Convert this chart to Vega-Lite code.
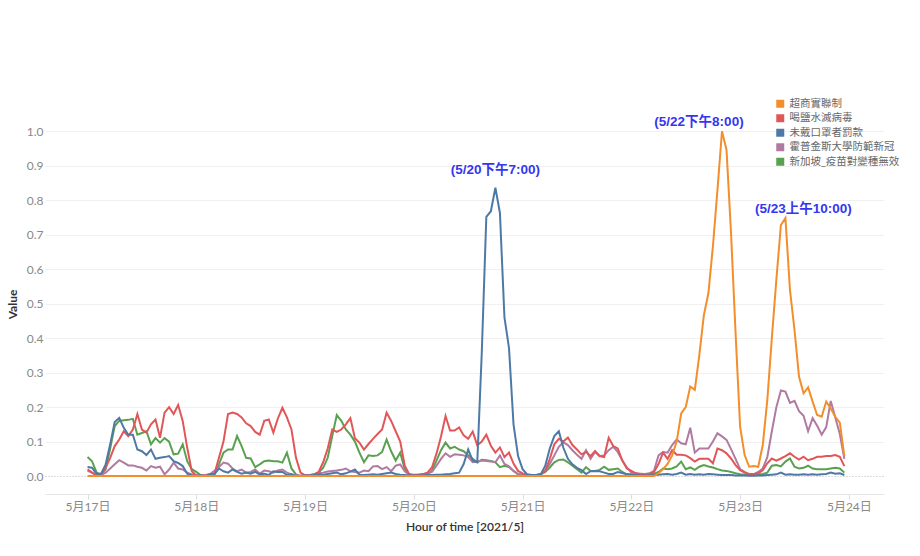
{
 "$schema": "https://vega.github.io/schema/vega-lite/v6.json",
 "width": 839, "height": 380,
 "autosize": {"type": "none"},
 "padding": {"left": 45, "top": 114, "right": 36, "bottom": 62},
 "background": "white",
 "config": {"view": {"stroke": null}, "font": "Lato, 'Noto Sans CJK TC', sans-serif"},
 "encoding": {
  "x": {"field": "t", "type": "temporal",
   "scale": {"domain": [{"year": 2021, "month": 5, "date": 16, "hours": 14, "minutes": 37}, {"year": 2021, "month": 5, "date": 24, "hours": 7, "minutes": 45}]},
   "axis": {"values": [{"year": 2021, "month": 5, "date": 17}, {"year": 2021, "month": 5, "date": 18}, {"year": 2021, "month": 5, "date": 19}, {"year": 2021, "month": 5, "date": 20}, {"year": 2021, "month": 5, "date": 21}, {"year": 2021, "month": 5, "date": 22}, {"year": 2021, "month": 5, "date": 23}, {"year": 2021, "month": 5, "date": 24}],
    "format": "%-m月%-d日", "title": "Hour of time [2021/5]", "grid": false, "domain": true, "domainColor": "#e6e6e6", "ticks": true, "tickColor": "#dddddd", "tickSize": 5, "labelColor": "#888888", "labelFontSize": 12, "labelPadding": 2, "labelOverlap": false, "labelFlush": false, "titleColor": "#333333", "titleFontSize": 12, "titleFontWeight": 600, "titlePadding": 9}},
  "y": {"field": "v", "type": "quantitative",
   "scale": {"domain": [-0.052, 1.05], "nice": false, "zero": false},
   "axis": {"values": [0, 0.1, 0.2, 0.3, 0.4, 0.5, 0.6, 0.7, 0.8, 0.9, 1.0], "format": ".1f", "title": "Value", "domain": false, "ticks": false,
    "gridColor": {"condition": {"test": "datum.value === 0", "value": "#bbbbbb"}, "value": "#f0f0f0"},
    "gridDash": {"condition": {"test": "datum.value === 0", "value": [1, 2]}, "value": []},
    "labelColor": "#888888", "labelFontSize": 12, "labelPadding": 2, "titleColor": "#333333", "titleFontSize": 12, "titleFontWeight": "bold", "titlePadding": 7}}
 },
 "layer": [
  {
   "data": {"values": [
{"t":"2021-05-17T00:00","o":0,"r":0.02,"b":0.026,"p":0.015,"g":0.055},
{"t":"2021-05-17T01:00","o":0,"r":0.01,"b":0.024,"p":0.01,"g":0.043},
{"t":"2021-05-17T02:00","o":0,"r":0.002,"b":0.007,"p":0.003,"g":0.01},
{"t":"2021-05-17T03:00","o":0,"r":0.005,"b":0.007,"p":0.003,"g":0.005},
{"t":"2021-05-17T04:00","o":0,"r":0.024,"b":0.034,"p":0.01,"g":0.02},
{"t":"2021-05-17T05:00","o":0,"r":0.053,"b":0.092,"p":0.022,"g":0.08},
{"t":"2021-05-17T06:00","o":0,"r":0.087,"b":0.157,"p":0.034,"g":0.145},
{"t":"2021-05-17T07:00","o":0,"r":0.106,"b":0.169,"p":0.046,"g":0.16},
{"t":"2021-05-17T08:00","o":0,"r":0.13,"b":0.14,"p":0.039,"g":0.162},
{"t":"2021-05-17T09:00","o":0,"r":0.116,"b":0.12,"p":0.031,"g":0.163},
{"t":"2021-05-17T10:00","o":0,"r":0.135,"b":0.12,"p":0.031,"g":0.166},
{"t":"2021-05-17T11:00","o":0,"r":0.18,"b":0.077,"p":0.027,"g":0.12},
{"t":"2021-05-17T12:00","o":0,"r":0.135,"b":0.072,"p":0.024,"g":0.125},
{"t":"2021-05-17T13:00","o":0,"r":0.126,"b":0.061,"p":0.016,"g":0.13},
{"t":"2021-05-17T14:00","o":0,"r":0.15,"b":0.077,"p":0.029,"g":0.092},
{"t":"2021-05-17T15:00","o":0,"r":0.164,"b":0.05,"p":0.024,"g":0.11},
{"t":"2021-05-17T16:00","o":0,"r":0.111,"b":0.053,"p":0.027,"g":0.097},
{"t":"2021-05-17T17:00","o":0,"r":0.184,"b":0.055,"p":0.005,"g":0.11},
{"t":"2021-05-17T18:00","o":0,"r":0.2,"b":0.058,"p":0.019,"g":0.1},
{"t":"2021-05-17T19:00","o":0,"r":0.18,"b":0.043,"p":0.039,"g":0.063},
{"t":"2021-05-17T20:00","o":0,"r":0.206,"b":0.038,"p":0.022,"g":0.065},
{"t":"2021-05-17T21:00","o":0,"r":0.16,"b":0.029,"p":0.019,"g":0.092},
{"t":"2021-05-17T22:00","o":0,"r":0.082,"b":0.007,"p":0.01,"g":0.043},
{"t":"2021-05-17T23:00","o":0,"r":0.014,"b":0.002,"p":0.005,"g":0.02},
{"t":"2021-05-18T00:00","o":0,"r":0.002,"b":0,"p":0.002,"g":0.012},
{"t":"2021-05-18T01:00","o":0,"r":0.002,"b":0.002,"p":0.002,"g":0.002},
{"t":"2021-05-18T02:00","o":0,"r":0.002,"b":0,"p":0.003,"g":0},
{"t":"2021-05-18T03:00","o":0,"r":0.005,"b":0.005,"p":0.005,"g":0.002},
{"t":"2021-05-18T04:00","o":0,"r":0.007,"b":0.005,"p":0.015,"g":0.005},
{"t":"2021-05-18T05:00","o":0,"r":0.053,"b":0.022,"p":0.026,"g":0.034},
{"t":"2021-05-18T06:00","o":0,"r":0.1,"b":0.014,"p":0.039,"g":0.068},
{"t":"2021-05-18T07:00","o":0,"r":0.18,"b":0.01,"p":0.036,"g":0.077},
{"t":"2021-05-18T08:00","o":0,"r":0.184,"b":0.019,"p":0.022,"g":0.077},
{"t":"2021-05-18T09:00","o":0,"r":0.18,"b":0.012,"p":0.014,"g":0.116},
{"t":"2021-05-18T10:00","o":0,"r":0.17,"b":0.007,"p":0.019,"g":0.087},
{"t":"2021-05-18T11:00","o":0,"r":0.153,"b":0.01,"p":0.01,"g":0.053},
{"t":"2021-05-18T12:00","o":0,"r":0.145,"b":0.007,"p":0.012,"g":0.051},
{"t":"2021-05-18T13:00","o":0,"r":0.128,"b":0.012,"p":0.019,"g":0.026},
{"t":"2021-05-18T14:00","o":0,"r":0.12,"b":0.005,"p":0.007,"g":0.034},
{"t":"2021-05-18T15:00","o":0,"r":0.16,"b":0.007,"p":0.016,"g":0.043},
{"t":"2021-05-18T16:00","o":0,"r":0.164,"b":0.003,"p":0.014,"g":0.045},
{"t":"2021-05-18T17:00","o":0,"r":0.126,"b":0.014,"p":0.01,"g":0.043},
{"t":"2021-05-18T18:00","o":0,"r":0.167,"b":0.012,"p":0.016,"g":0.043},
{"t":"2021-05-18T19:00","o":0,"r":0.198,"b":0.012,"p":0.019,"g":0.039},
{"t":"2021-05-18T20:00","o":0,"r":0.17,"b":0.003,"p":0.01,"g":0.068},
{"t":"2021-05-18T21:00","o":0,"r":0.135,"b":0.005,"p":0.005,"g":0.022},
{"t":"2021-05-18T22:00","o":0,"r":0.053,"b":0,"p":0.002,"g":0.005},
{"t":"2021-05-18T23:00","o":0,"r":0.01,"b":0,"p":0.002,"g":0},
{"t":"2021-05-19T00:00","o":0,"r":0.002,"b":0.002,"p":0.003,"g":0},
{"t":"2021-05-19T01:00","o":0,"r":0.002,"b":0.002,"p":0.003,"g":0.002},
{"t":"2021-05-19T02:00","o":0,"r":0.005,"b":0.003,"p":0.005,"g":0.004},
{"t":"2021-05-19T03:00","o":0,"r":0.012,"b":0.005,"p":0.008,"g":0.01},
{"t":"2021-05-19T04:00","o":0,"r":0.04,"b":0.004,"p":0.01,"g":0.024},
{"t":"2021-05-19T05:00","o":0,"r":0.08,"b":0.006,"p":0.013,"g":0.053},
{"t":"2021-05-19T06:00","o":0,"r":0.135,"b":0.008,"p":0.015,"g":0.116},
{"t":"2021-05-19T07:00","o":0,"r":0.128,"b":0.01,"p":0.016,"g":0.177},
{"t":"2021-05-19T08:00","o":0,"r":0.135,"b":0.005,"p":0.018,"g":0.16},
{"t":"2021-05-19T09:00","o":0,"r":0.15,"b":0.008,"p":0.022,"g":0.135},
{"t":"2021-05-19T10:00","o":0,"r":0.168,"b":0.013,"p":0.014,"g":0.12},
{"t":"2021-05-19T11:00","o":0,"r":0.11,"b":0.019,"p":0.012,"g":0.1},
{"t":"2021-05-19T12:00","o":0,"r":0.097,"b":0.004,"p":0.01,"g":0.068},
{"t":"2021-05-19T13:00","o":0,"r":0.077,"b":0.003,"p":0.016,"g":0.04},
{"t":"2021-05-19T14:00","o":0,"r":0.093,"b":0.004,"p":0.014,"g":0.06},
{"t":"2021-05-19T15:00","o":0,"r":0.108,"b":0.005,"p":0.028,"g":0.058},
{"t":"2021-05-19T16:00","o":0,"r":0.122,"b":0.004,"p":0.029,"g":0.06},
{"t":"2021-05-19T17:00","o":0,"r":0.135,"b":0.006,"p":0.02,"g":0.07},
{"t":"2021-05-19T18:00","o":0,"r":0.184,"b":0.008,"p":0.026,"g":0.106},
{"t":"2021-05-19T19:00","o":0,"r":0.16,"b":0.01,"p":0.014,"g":0.072},
{"t":"2021-05-19T20:00","o":0,"r":0.13,"b":0.006,"p":0.03,"g":0.045},
{"t":"2021-05-19T21:00","o":0,"r":0.1,"b":0.004,"p":0.034,"g":0.068},
{"t":"2021-05-19T22:00","o":0,"r":0.03,"b":0.003,"p":0.014,"g":0.02},
{"t":"2021-05-19T23:00","o":0,"r":0.005,"b":0.002,"p":0.004,"g":0.005},
{"t":"2021-05-20T00:00","o":0,"r":0.003,"b":0.002,"p":0.004,"g":0.002},
{"t":"2021-05-20T01:00","o":0,"r":0.004,"b":0.002,"p":0.004,"g":0.002},
{"t":"2021-05-20T02:00","o":0,"r":0.005,"b":0.002,"p":0.006,"g":0.003},
{"t":"2021-05-20T03:00","o":0,"r":0.01,"b":0.003,"p":0.008,"g":0.005},
{"t":"2021-05-20T04:00","o":0,"r":0.025,"b":0.003,"p":0.012,"g":0.015},
{"t":"2021-05-20T05:00","o":0,"r":0.065,"b":0.004,"p":0.03,"g":0.045},
{"t":"2021-05-20T06:00","o":0,"r":0.115,"b":0.004,"p":0.05,"g":0.075},
{"t":"2021-05-20T07:00","o":0,"r":0.174,"b":0.005,"p":0.066,"g":0.097},
{"t":"2021-05-20T08:00","o":0,"r":0.132,"b":0.006,"p":0.056,"g":0.08},
{"t":"2021-05-20T09:00","o":0,"r":0.132,"b":0.008,"p":0.063,"g":0.085},
{"t":"2021-05-20T10:00","o":0,"r":0.141,"b":0.01,"p":0.062,"g":0.077},
{"t":"2021-05-20T11:00","o":0,"r":0.118,"b":0.035,"p":0.06,"g":0.072},
{"t":"2021-05-20T12:00","o":0,"r":0.108,"b":0.077,"p":0.055,"g":0.06},
{"t":"2021-05-20T13:00","o":0,"r":0.129,"b":0.045,"p":0.04,"g":0.05},
{"t":"2021-05-20T14:00","o":0,"r":0.089,"b":0.04,"p":0.042,"g":0.04},
{"t":"2021-05-20T15:00","o":0,"r":0.1,"b":0.36,"p":0.045,"g":0.047},
{"t":"2021-05-20T16:00","o":0,"r":0.12,"b":0.752,"p":0.044,"g":0.046},
{"t":"2021-05-20T17:00","o":0,"r":0.088,"b":0.768,"p":0.042,"g":0.044},
{"t":"2021-05-20T18:00","o":0,"r":0.068,"b":0.836,"p":0.04,"g":0.04},
{"t":"2021-05-20T19:00","o":0,"r":0.083,"b":0.763,"p":0.06,"g":0.026},
{"t":"2021-05-20T20:00","o":0,"r":0.055,"b":0.46,"p":0.035,"g":0.03},
{"t":"2021-05-20T21:00","o":0,"r":0.068,"b":0.372,"p":0.028,"g":0.026},
{"t":"2021-05-20T22:00","o":0,"r":0.036,"b":0.15,"p":0.015,"g":0.015},
{"t":"2021-05-20T23:00","o":0,"r":0.015,"b":0.058,"p":0.006,"g":0.005},
{"t":"2021-05-21T00:00","o":0,"r":0.008,"b":0.02,"p":0.004,"g":0.003},
{"t":"2021-05-21T01:00","o":0,"r":0.003,"b":0.005,"p":0.003,"g":0.002},
{"t":"2021-05-21T02:00","o":0,"r":0.002,"b":0.003,"p":0.003,"g":0.002},
{"t":"2021-05-21T03:00","o":0,"r":0.002,"b":0.003,"p":0.003,"g":0.002},
{"t":"2021-05-21T04:00","o":0,"r":0.005,"b":0.005,"p":0.006,"g":0.005},
{"t":"2021-05-21T05:00","o":0,"r":0.015,"b":0.03,"p":0.015,"g":0.012},
{"t":"2021-05-21T06:00","o":0,"r":0.05,"b":0.08,"p":0.035,"g":0.025},
{"t":"2021-05-21T07:00","o":0,"r":0.092,"b":0.116,"p":0.06,"g":0.04},
{"t":"2021-05-21T08:00","o":0,"r":0.108,"b":0.13,"p":0.085,"g":0.047},
{"t":"2021-05-21T09:00","o":0,"r":0.1,"b":0.082,"p":0.098,"g":0.048},
{"t":"2021-05-21T10:00","o":0,"r":0.112,"b":0.05,"p":0.09,"g":0.04},
{"t":"2021-05-21T11:00","o":0,"r":0.09,"b":0.034,"p":0.075,"g":0.03},
{"t":"2021-05-21T12:00","o":0,"r":0.077,"b":0.024,"p":0.062,"g":0.02},
{"t":"2021-05-21T13:00","o":0,"r":0.063,"b":0.017,"p":0.05,"g":0.01},
{"t":"2021-05-21T14:00","o":0,"r":0.07,"b":0.006,"p":0.075,"g":0.026},
{"t":"2021-05-21T15:00","o":0,"r":0.058,"b":0.014,"p":0.05,"g":0.015},
{"t":"2021-05-21T16:00","o":0,"r":0.073,"b":0.015,"p":0.07,"g":0.015},
{"t":"2021-05-21T17:00","o":0,"r":0.058,"b":0.014,"p":0.058,"g":0.018},
{"t":"2021-05-21T18:00","o":0,"r":0.055,"b":0.01,"p":0.06,"g":0.027},
{"t":"2021-05-21T19:00","o":0,"r":0.111,"b":0.006,"p":0.075,"g":0.018},
{"t":"2021-05-21T20:00","o":0,"r":0.087,"b":0.006,"p":0.085,"g":0.02},
{"t":"2021-05-21T21:00","o":0,"r":0.08,"b":0.012,"p":0.07,"g":0.022},
{"t":"2021-05-21T22:00","o":0,"r":0.045,"b":0.009,"p":0.046,"g":0.012},
{"t":"2021-05-21T23:00","o":0,"r":0.022,"b":0.005,"p":0.025,"g":0.005},
{"t":"2021-05-22T00:00","o":0,"r":0.015,"b":0.004,"p":0.01,"g":0.005},
{"t":"2021-05-22T01:00","o":0,"r":0.008,"b":0.003,"p":0.008,"g":0.004},
{"t":"2021-05-22T02:00","o":0,"r":0.005,"b":0.002,"p":0.007,"g":0.003},
{"t":"2021-05-22T03:00","o":0,"r":0.004,"b":0.002,"p":0.006,"g":0.003},
{"t":"2021-05-22T04:00","o":0,"r":0.005,"b":0.002,"p":0.008,"g":0.004},
{"t":"2021-05-22T05:00","o":0,"r":0.012,"b":0.003,"p":0.015,"g":0.006},
{"t":"2021-05-22T06:00","o":0.008,"r":0.035,"b":0.004,"p":0.06,"g":0.012},
{"t":"2021-05-22T07:00","o":0.02,"r":0.068,"b":0.005,"p":0.07,"g":0.022},
{"t":"2021-05-22T08:00","o":0.035,"r":0.05,"b":0.006,"p":0.068,"g":0.02},
{"t":"2021-05-22T09:00","o":0.06,"r":0.075,"b":0.004,"p":0.09,"g":0.022},
{"t":"2021-05-22T10:00","o":0.1,"r":0.062,"b":0.006,"p":0.106,"g":0.028},
{"t":"2021-05-22T11:00","o":0.182,"r":0.062,"b":0.01,"p":0.095,"g":0.042},
{"t":"2021-05-22T12:00","o":0.2,"r":0.06,"b":0.004,"p":0.092,"g":0.02},
{"t":"2021-05-22T13:00","o":0.26,"r":0.052,"b":0.006,"p":0.14,"g":0.025},
{"t":"2021-05-22T14:00","o":0.25,"r":0.042,"b":0.004,"p":0.068,"g":0.018},
{"t":"2021-05-22T15:00","o":0.351,"r":0.05,"b":0.005,"p":0.08,"g":0.027},
{"t":"2021-05-22T16:00","o":0.467,"r":0.05,"b":0.004,"p":0.08,"g":0.032},
{"t":"2021-05-22T17:00","o":0.53,"r":0.05,"b":0.006,"p":0.08,"g":0.028},
{"t":"2021-05-22T18:00","o":0.666,"r":0.037,"b":0.005,"p":0.1,"g":0.025},
{"t":"2021-05-22T19:00","o":0.83,"r":0.08,"b":0.004,"p":0.124,"g":0.02},
{"t":"2021-05-22T20:00","o":1.0,"r":0.075,"b":0.003,"p":0.115,"g":0.016},
{"t":"2021-05-22T21:00","o":0.946,"r":0.066,"b":0.003,"p":0.105,"g":0.015},
{"t":"2021-05-22T22:00","o":0.704,"r":0.051,"b":0.003,"p":0.078,"g":0.012},
{"t":"2021-05-22T23:00","o":0.414,"r":0.032,"b":0.002,"p":0.05,"g":0.008},
{"t":"2021-05-23T00:00","o":0.143,"r":0.017,"b":0.002,"p":0.02,"g":0.005},
{"t":"2021-05-23T01:00","o":0.061,"r":0.01,"b":0.002,"p":0.012,"g":0.004},
{"t":"2021-05-23T02:00","o":0.027,"r":0.006,"b":0.001,"p":0.005,"g":0.004},
{"t":"2021-05-23T03:00","o":0.029,"r":0.006,"b":0.001,"p":0.005,"g":0.004},
{"t":"2021-05-23T04:00","o":0.027,"r":0.008,"b":0.002,"p":0.012,"g":0.005},
{"t":"2021-05-23T05:00","o":0.09,"r":0.017,"b":0.002,"p":0.022,"g":0.006},
{"t":"2021-05-23T06:00","o":0.22,"r":0.037,"b":0.003,"p":0.055,"g":0.01},
{"t":"2021-05-23T07:00","o":0.4,"r":0.051,"b":0.004,"p":0.13,"g":0.03},
{"t":"2021-05-23T08:00","o":0.57,"r":0.045,"b":0.005,"p":0.2,"g":0.032},
{"t":"2021-05-23T09:00","o":0.728,"r":0.051,"b":0.01,"p":0.248,"g":0.028},
{"t":"2021-05-23T10:00","o":0.748,"r":0.058,"b":0.004,"p":0.245,"g":0.042},
{"t":"2021-05-23T11:00","o":0.54,"r":0.066,"b":0.005,"p":0.212,"g":0.051},
{"t":"2021-05-23T12:00","o":0.424,"r":0.056,"b":0.004,"p":0.218,"g":0.027},
{"t":"2021-05-23T13:00","o":0.288,"r":0.048,"b":0.004,"p":0.188,"g":0.022},
{"t":"2021-05-23T14:00","o":0.24,"r":0.056,"b":0.005,"p":0.175,"g":0.024},
{"t":"2021-05-23T15:00","o":0.257,"r":0.046,"b":0.004,"p":0.13,"g":0.03},
{"t":"2021-05-23T16:00","o":0.216,"r":0.05,"b":0.005,"p":0.168,"g":0.022},
{"t":"2021-05-23T17:00","o":0.177,"r":0.056,"b":0.004,"p":0.146,"g":0.02},
{"t":"2021-05-23T18:00","o":0.172,"r":0.056,"b":0.005,"p":0.12,"g":0.02},
{"t":"2021-05-23T19:00","o":0.216,"r":0.058,"b":0.006,"p":0.142,"g":0.02},
{"t":"2021-05-23T20:00","o":0.196,"r":0.058,"b":0.01,"p":0.218,"g":0.022},
{"t":"2021-05-23T21:00","o":0.172,"r":0.061,"b":0.007,"p":0.17,"g":0.024},
{"t":"2021-05-23T22:00","o":0.155,"r":0.056,"b":0.008,"p":0.122,"g":0.022},
{"t":"2021-05-23T23:00","o":0.058,"r":0.029,"b":0.003,"p":0.05,"g":0.01}
   ]},
   "transform": [{"fold": ["g", "p", "r", "b", "o"], "as": ["k", "v"]}],
   "mark": {"type": "line", "strokeWidth": 2},
   "encoding": {
    "color": {"field": "k", "type": "nominal",
     "scale": {"domain": ["o", "r", "b", "p", "g"], "range": ["#f28e2b", "#e15759", "#4e79a7", "#b07aa1", "#59a14f"]},
     "legend": {"title": null, "orient": "none", "legendX": 730, "legendY": -15.5, "padding": 0,
      "symbolType": "square", "symbolSize": 64, "symbolStrokeWidth": 0, "symbolOpacity": 1,
      "labelFontSize": 10.5, "labelColor": "#666666", "labelOffset": 4, "rowPadding": 3.5,
      "encode": {"symbols": {"update": {"fill": {"scale": "color", "field": "value"}, "fillOpacity": {"value": 1}, "strokeWidth": {"value": 0}}}},
      "labelExpr": "datum.label == 'o' ? '超商實聯制' : datum.label == 'r' ? '喝鹽水滅病毒' : datum.label == 'b' ? '未戴口罩者罰款' : datum.label == 'p' ? '霍普金斯大學防範新冠' : '新加坡_疫苗對變種無效'"}}
   }
  },
  {
   "data": {"values": [{"t": "2021-05-20T18:00", "v": 0.836, "label": "(5/20下午7:00)"}]},
   "mark": {"type": "text", "dy": -18, "fontWeight": "bold", "fontSize": 13.5, "color": "#3636f0", "font": "'Liberation Sans', 'Noto Sans CJK TC', sans-serif", "baseline": "middle", "align": "center"},
   "encoding": {"text": {"field": "label"}}
  },
  {
   "data": {"values": [{"t": "2021-05-22T20:00", "v": 1.0, "label": "(5/22下午8:00)"}]},
   "mark": {"type": "text", "dx": -23, "dy": -9.5, "fontWeight": "bold", "fontSize": 13.5, "color": "#3636f0", "font": "'Liberation Sans', 'Noto Sans CJK TC', sans-serif", "baseline": "middle", "align": "center"},
   "encoding": {"text": {"field": "label"}}
  },
  {
   "data": {"values": [{"t": "2021-05-23T10:00", "v": 0.748, "label": "(5/23上午10:00)"}]},
   "mark": {"type": "text", "dx": 18, "dy": -9, "fontWeight": "bold", "fontSize": 13.5, "color": "#3636f0", "font": "'Liberation Sans', 'Noto Sans CJK TC', sans-serif", "baseline": "middle", "align": "center"},
   "encoding": {"text": {"field": "label"}}
  }
 ]
}
